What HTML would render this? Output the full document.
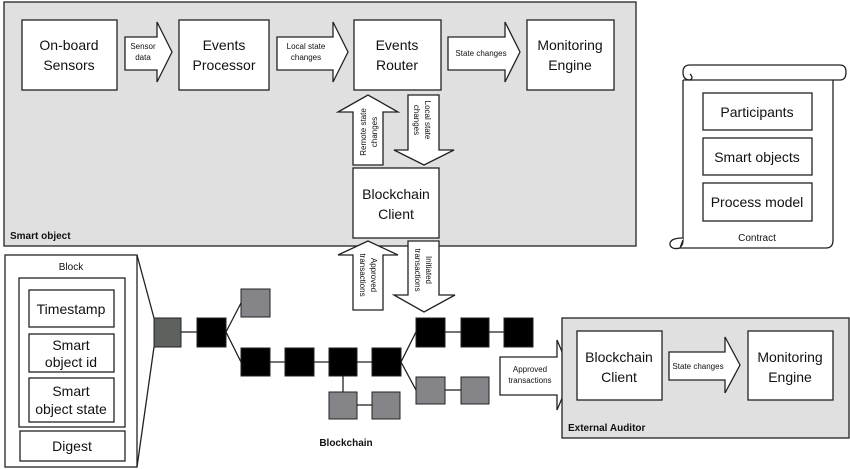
<!DOCTYPE html>
<html><head><meta charset="utf-8"><style>
html,body{margin:0;padding:0;background:#fff;}
svg{display:block;font-family:"Liberation Sans",sans-serif;}
</style></head><body>
<svg width="850" height="469" viewBox="0 0 850 469" xmlns="http://www.w3.org/2000/svg">
<g stroke="#222" stroke-width="1.3">
<!-- Smart object container -->
<rect x="4" y="2" width="632" height="244" fill="#e0e0e0"/>
<!-- top row boxes -->
<rect x="22" y="20" width="95" height="70" fill="#fff"/>
<rect x="179" y="20" width="90" height="70" fill="#fff"/>
<rect x="354" y="20" width="87" height="70" fill="#fff"/>
<rect x="527" y="20" width="87" height="70" fill="#fff"/>
<!-- horizontal arrows -->
<polygon points="125,37 157,37 157,22 172,52 157,82 157,70 125,70" fill="#fff"/>
<polygon points="277,37 333,37 333,22 348,52 333,82 333,70 277,70" fill="#fff"/>
<polygon points="448,37 505,37 505,22 520,52 505,82 505,70 448,70" fill="#fff"/>
<!-- vertical arrows upper -->
<polygon points="353,165 353,112 338,112 368,95 398,112 383,112 383,165" fill="#fff"/>
<polygon points="408,95 439,95 439,150 454,150 424,165 394,150 408,150" fill="#fff"/>
<rect x="353" y="168" width="86" height="70" fill="#fff"/>
<!-- vertical arrows lower -->
<polygon points="353,310 353,255 338,255 368,241 398,255 383,255 383,310" fill="#fff"/>
<polygon points="408,241 439,241 439,295 455,295 424,312 394,295 408,295" fill="#fff"/>
<!-- Block detail -->
<rect x="5" y="255" width="132" height="212" fill="#fff"/>
<rect x="19" y="278" width="106" height="149" fill="#fff"/>
<rect x="29" y="290" width="85" height="37" fill="#fff"/>
<rect x="29" y="334" width="85" height="38" fill="#fff"/>
<rect x="29" y="378" width="85" height="44" fill="#fff"/>
<rect x="20" y="431" width="105" height="30" fill="#fff"/>
<line x1="137" y1="255" x2="154" y2="318"/>
<line x1="137" y1="467" x2="154" y2="347"/>
<!-- chain lines -->
<line x1="181" y1="332" x2="197" y2="332"/>
<line x1="226" y1="332" x2="241" y2="303"/>
<line x1="226" y1="332" x2="241" y2="362"/>
<line x1="270" y1="362" x2="401" y2="362"/>
<line x1="343" y1="376" x2="343" y2="392"/>
<line x1="357" y1="405" x2="372" y2="405"/>
<line x1="401" y1="362" x2="416" y2="332"/>
<line x1="401" y1="362" x2="416" y2="390"/>
<line x1="445" y1="332" x2="504" y2="332"/>
<line x1="445" y1="390" x2="461" y2="390"/>
</g>
<g stroke="#222" stroke-width="1">
<rect x="154" y="318" width="27" height="29" fill="#5d625e"/>
<rect x="197" y="318" width="29" height="29" fill="#000"/>
<rect x="241" y="289" width="29" height="28" fill="#858488"/>
<rect x="241" y="348" width="29" height="28" fill="#000"/>
<rect x="285" y="348" width="29" height="28" fill="#000"/>
<rect x="329" y="348" width="28" height="28" fill="#000"/>
<rect x="372" y="348" width="29" height="28" fill="#000"/>
<rect x="329" y="392" width="28" height="27" fill="#858488"/>
<rect x="372" y="392" width="28" height="27" fill="#858488"/>
<rect x="416" y="318" width="29" height="29" fill="#000"/>
<rect x="461" y="318" width="28" height="29" fill="#000"/>
<rect x="504" y="318" width="29" height="29" fill="#000"/>
<rect x="416" y="377" width="29" height="27" fill="#858488"/>
<rect x="461" y="377" width="28" height="27" fill="#858488"/>
</g>
<g stroke="#222" stroke-width="1.3">
<polygon points="500,357 557,357 557,340 572,375 557,410 557,395 500,395" fill="#fff"/>
<!-- External auditor -->
<rect x="562" y="318" width="287" height="120" fill="#e0e0e0"/>
<rect x="577" y="331" width="85" height="69" fill="#fff"/>
<rect x="748" y="331" width="85" height="69" fill="#fff"/>
<polygon points="669,352 725,352 725,337 740,365 725,393 725,380 669,380" fill="#fff"/>
<!-- Contract scroll -->
<path d="M683,80 L683,240 Q683,248 676,248 L826,248 Q833,248 833,240 L833,80" fill="#fff"/>
<path d="M683,72 Q683,65 690,65 L840,65 Q846,65 846,72 Q846,80 840,80 L683,80" fill="#fff"/>
<path d="M683,72 Q683,80 690,80 Q694,78 690,74" fill="none"/>
<path d="M683,238 Q669,238 670,245 Q672,250 680,248 L683,240" fill="#fff"/>
<rect x="703" y="93" width="109" height="37" fill="#fff"/>
<rect x="703" y="138" width="109" height="37" fill="#fff"/>
<rect x="703" y="183" width="109" height="38" fill="#fff"/>
</g>
<g fill="#111" text-anchor="middle" font-size="14">
<text x="69" y="50">On-board</text><text x="69" y="70">Sensors</text>
<text x="224" y="50">Events</text><text x="224" y="70">Processor</text>
<text x="397" y="50">Events</text><text x="397" y="70">Router</text>
<text x="570" y="50">Monitoring</text><text x="570" y="70">Engine</text>
<text x="396" y="199">Blockchain</text><text x="396" y="219">Client</text>
<text x="619" y="362">Blockchain</text><text x="619" y="382">Client</text>
<text x="790" y="362">Monitoring</text><text x="790" y="382">Engine</text>
<text x="757" y="117">Participants</text>
<text x="757" y="162">Smart objects</text>
<text x="757" y="207">Process model</text>
<text x="71" y="314">Timestamp</text>
<text x="71" y="350">Smart</text><text x="71" y="367">object id</text>
<text x="71" y="396">Smart</text><text x="71" y="414">object state</text>
<text x="72" y="451">Digest</text>
</g>
<g fill="#111" text-anchor="middle" font-size="8">
<text x="143" y="49">Sensor</text><text x="143" y="60">data</text>
<text x="306" y="49">Local state</text><text x="306" y="60">changes</text>
<text x="481" y="56">State changes</text>
<text x="698" y="369">State changes</text>
<text x="530" y="372">Approved</text><text x="530" y="383">transactions</text>
<text transform="translate(366,132) rotate(-90)">Remote state</text>
<text transform="translate(377,132) rotate(-90)">changes</text>
<text transform="translate(425,120) rotate(90)">Local state</text>
<text transform="translate(414,120) rotate(90)">changes</text>
<text transform="translate(371,275) rotate(90)">Approved</text>
<text transform="translate(360,275) rotate(90)">transactions</text>
<text transform="translate(426,270) rotate(90)">Initiated</text>
<text transform="translate(415,270) rotate(90)">transactions</text>
</g>
<g fill="#111" font-size="10">
<text x="71" y="270" text-anchor="middle">Block</text>
<text x="757" y="241" text-anchor="middle">Contract</text>
<text x="10" y="239" font-weight="bold">Smart object</text>
<text x="568" y="431" font-weight="bold">External Auditor</text>
<text x="346" y="446" font-weight="bold" text-anchor="middle">Blockchain</text>
</g>
</svg>
</body></html>
